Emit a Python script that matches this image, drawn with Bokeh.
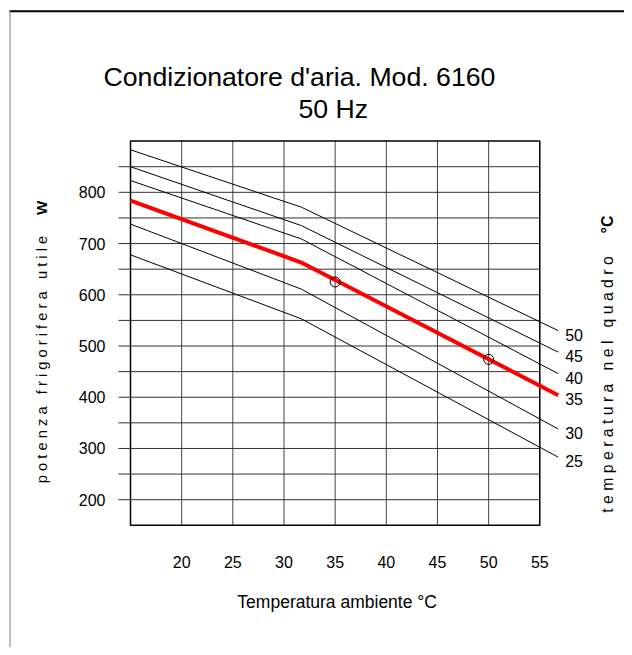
import math
from bokeh.plotting import figure
from bokeh.models import Range1d
from bokeh.embed import file_html
from bokeh.resources import INLINE
from bokeh.core.properties import value

# ---------------- data ----------------
amb_temp = [15, 31.7, 56.8]                 # ambient temperature breakpoints (°C)
series_labels = ["25", "30", "35", "40", "45", "50"]   # cabinet temperature (°C)
p25 = [678, 553, 283]
p30 = [738, 611, 338]
p35 = [784, 663, 404]                        # highlighted (red) curve
p40 = [823, 709, 446]
p45 = [850, 735, 488]
p50 = [883, 771, 530]
marker_x = [35, 50]
marker_y = [625, 474]
x_ticks = [20, 25, 30, 35, 40, 45, 50, 55]
y_ticks = [200, 300, 400, 500, 600, 700, 800]
x_grid = [20, 25, 30, 35, 40, 45, 50]
y_grid = [200, 250, 300, 350, 400, 450, 500, 550, 600, 650, 700, 750, 800, 850]
x_bounds = [15, 55]
y_bounds = [150, 900]

title_1 = "Condizionatore d'aria. Mod. 6160"
title_2 = "50 Hz"
x_title = "Temperatura ambiente °C"
y_title = "potenza frigorifera utile"
y_unit = "W"
r_title = "temperatura nel quadro"
r_unit = "°C"

# ---------------- layout ----------------
W, H = 624, 647
M = 0  # canvas origin offset in the screenshot
box_l, box_r, box_t, box_b = 130.0, 539.3, 140.6, 524.8   # picture pixels of the grid box
sx = (box_r - box_l) / (x_bounds[1] - x_bounds[0])
sy = (box_b - box_t) / (y_bounds[1] - y_bounds[0])
x_start = x_bounds[0] - (box_l - M) / sx
x_end = x_start + W / sx
y_end = y_bounds[1] + (box_t - M) / sy
y_start = y_end - H / sy


def X(px):
    return x_start + (px - M) / sx


def Y(py):
    return y_end - (py - M) / sy


def spaced(s):
    return " \u00a0 ".join(" ".join(w) for w in s.split(" "))


FONT = value("Liberation Sans")

p = figure(width=W, height=H, x_range=Range1d(x_start, x_end), y_range=Range1d(y_start, y_end),
           x_axis_location=None, y_axis_location=None, min_border=0,
           toolbar_location=None, output_backend="svg", outline_line_color=None,
           background_fill_color="white", border_fill_color="white")
p.grid.visible = False

# outer border (top and left visible)
p.segment(x0=[X(9)], y0=[Y(10.8)], x1=[x_end], y1=[Y(10.8)], line_color="black", line_width=2)
p.segment(x0=[X(9.5)], y0=[Y(10)], x1=[X(9.5)], y1=[y_start], line_color="#777777", line_width=1)

# grid
tick_len = 12 / sx
p.segment(x0=x_grid, y0=[y_bounds[0]] * len(x_grid), x1=x_grid, y1=[y_bounds[1]] * len(x_grid),
          line_color="#444444", line_width=1)
p.segment(x0=[x_bounds[0] - tick_len] * len(y_grid), y0=y_grid,
          x1=[x_bounds[1]] * len(y_grid), y1=y_grid, line_color="#333333", line_width=1)
p.quad(left=[x_bounds[0]], right=[x_bounds[1]], bottom=[y_bounds[0]], top=[y_bounds[1]],
       fill_color=None, line_color="black", line_width=1.5)

# curves
curves = [p25, p30, p35, p40, p45, p50]
for lab, vals in zip(series_labels, curves):
    if lab == "35":
        continue
    p.line(amb_temp, vals, line_color="black", line_width=1)
p.line(amb_temp, p35, line_color="#ff0000", line_width=4)

p.scatter(marker_x, marker_y, marker="circle", size=10, fill_color=None,
          line_color="black", line_width=1)

# curve labels
p.text(x=[amb_temp[-1]] * len(curves), y=[c[-1] for c in curves], text=series_labels,
       x_offset=7, y_offset=4, text_font=FONT, text_font_size="16px",
       text_align="left", text_baseline="middle", text_color="black")

# tick labels
p.text(x=x_ticks, y=[y_bounds[0]] * len(x_ticks), text=[str(t) for t in x_ticks],
       y_offset=37, text_font=FONT, text_font_size="16px",
       text_align="center", text_baseline="middle", text_color="black")
p.text(x=[x_bounds[0]] * len(y_ticks), y=y_ticks, text=[str(t) for t in y_ticks],
       x_offset=-25, text_font=FONT, text_font_size="16px",
       text_align="right", text_baseline="middle", text_color="black")

# axis titles
p.text(x=[(x_bounds[0] + x_bounds[1]) / 2], y=[y_bounds[0]], text=[x_title],
       x_offset=2, y_offset=77, text_font=FONT, text_font_size="17.5px",
       text_align="center", text_baseline="alphabetic", text_color="black")

p.text(x=[X(41)], y=[Y(359)], text=[spaced(y_title)], angle=math.pi / 2,
       text_font=FONT, text_font_size="14.7px", text_align="center",
       text_baseline="middle", text_color="black")
p.text(x=[X(41)], y=[Y(207.5)], text=[y_unit], angle=math.pi / 2,
       text_font=FONT, text_font_size="15px", text_font_style="bold",
       text_align="center", text_baseline="middle", text_color="black")

p.text(x=[X(607)], y=[Y(384)], text=[spaced(r_title)], angle=math.pi / 2,
       text_font=FONT, text_font_size="15.8px", text_align="center",
       text_baseline="middle", text_color="black")
p.text(x=[X(607)], y=[Y(224)], text=[r_unit], angle=math.pi / 2,
       text_font=FONT, text_font_size="16px", text_font_style="bold",
       text_align="center", text_baseline="middle", text_color="black")

# chart title (two lines)
p.text(x=[x_bounds[0]], y=[y_bounds[1]], text=[title_1], x_offset=-27, y_offset=-(box_t - 76),
       text_font=FONT, text_font_size="26.67px", text_align="left",
       text_baseline="alphabetic", text_color="black")
p.text(x=[x_bounds[0]], y=[y_bounds[1]], text=[title_2], x_offset=168, y_offset=-(box_t - 108.3),
       text_font=FONT, text_font_size="26.67px", text_align="left",
       text_baseline="alphabetic", text_color="black")

open("out.html", "w").write(file_html(p, INLINE))
